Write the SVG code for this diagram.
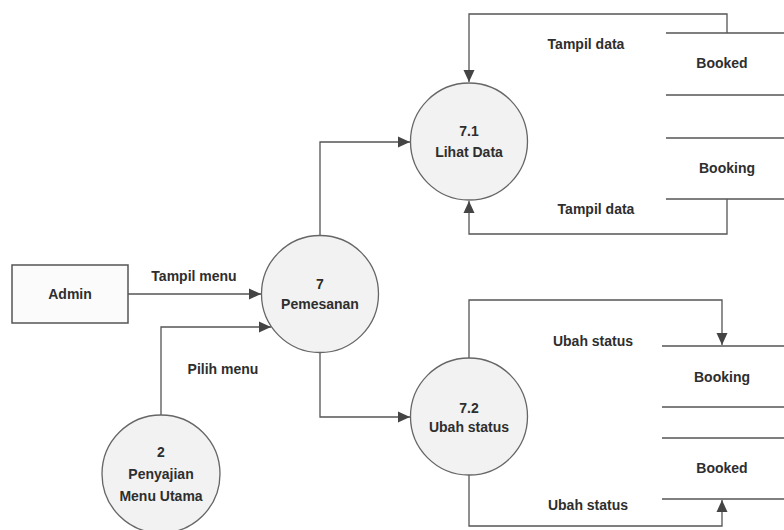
<svg xmlns="http://www.w3.org/2000/svg" width="784" height="530" viewBox="0 0 784 530">
<defs>
<marker id="arr" viewBox="0 0 12 12" refX="12" refY="6" markerWidth="12" markerHeight="12" markerUnits="userSpaceOnUse" orient="auto">
<path d="M0,0.5 L12,6 L0,11.5 z" fill="#444"/>
</marker>
</defs>
<style>
text{font-family:"Liberation Sans",Arial,sans-serif;font-weight:bold;font-size:14px;fill:#2e2e2e;text-anchor:middle;dominant-baseline:central}
.proc{fill:#f2f2f2;stroke:#666;stroke-width:1.3}
.ent{fill:#fbfbfb;stroke:#555;stroke-width:1.5}
.store{stroke:#555;stroke-width:1.3;fill:none}
.flow{stroke:#555;stroke-width:1.3;fill:none;marker-end:url(#arr)}
</style>
<rect width="784" height="530" fill="#fff"/>
<g id="connectors">
<path class="flow" d="M128,294 H261"/>
<path class="flow" d="M161,415 V327 H271"/>
<path class="flow" d="M320,235 V142 H410"/>
<path class="flow" d="M320,353 V417 H410"/>
<path class="flow" d="M727,33 V14 H469 V82"/>
<path class="flow" d="M727,199 V234 H469 V201"/>
<path class="flow" d="M469,358 V300 H722 V345"/>
<path class="flow" d="M469,475 V526 H722 V500"/>
<text x="194" y="276">Tampil menu</text>
<text x="223" y="369">Pilih menu</text>
<text x="586" y="44">Tampil data</text>
<text x="596" y="209">Tampil data</text>
<text x="593" y="341">Ubah status</text>
<text x="588" y="505">Ubah status</text>
</g>
<g id="admin">
<rect class="ent" x="12" y="265" width="116" height="58"/>
<text x="70" y="294">Admin</text>
</g>
<g id="p7">
<circle class="proc" cx="320" cy="294" r="58.5"/>
<text x="320" y="284">7</text>
<text x="320" y="304">Pemesanan</text>
</g>
<g id="p2">
<circle class="proc" cx="161" cy="474" r="59"/>
<text x="161" y="452">2</text>
<text x="161" y="474">Penyajian</text>
<text x="161" y="496">Menu Utama</text>
</g>
<g id="p71">
<circle class="proc" cx="469" cy="141.5" r="58.5"/>
<text x="469" y="131">7.1</text>
<text x="469" y="152">Lihat Data</text>
</g>
<g id="p72">
<circle class="proc" cx="469" cy="416.5" r="58.5"/>
<text x="469" y="408">7.2</text>
<text x="469" y="427">Ubah status</text>
</g>
<g id="store-booked-top">
<path class="store" d="M666,33 H784 M666,95 H784"/>
<text x="722" y="63">Booked</text>
</g>
<g id="store-booking-top">
<path class="store" d="M666,138 H784 M666,199 H784"/>
<text x="727" y="168">Booking</text>
</g>
<g id="store-booking-bottom">
<path class="store" d="M662,346 H784 M662,407 H784"/>
<text x="722" y="377">Booking</text>
</g>
<g id="store-booked-bottom">
<path class="store" d="M662,438 H784 M662,499 H784"/>
<text x="722" y="468">Booked</text>
</g>
</svg>
